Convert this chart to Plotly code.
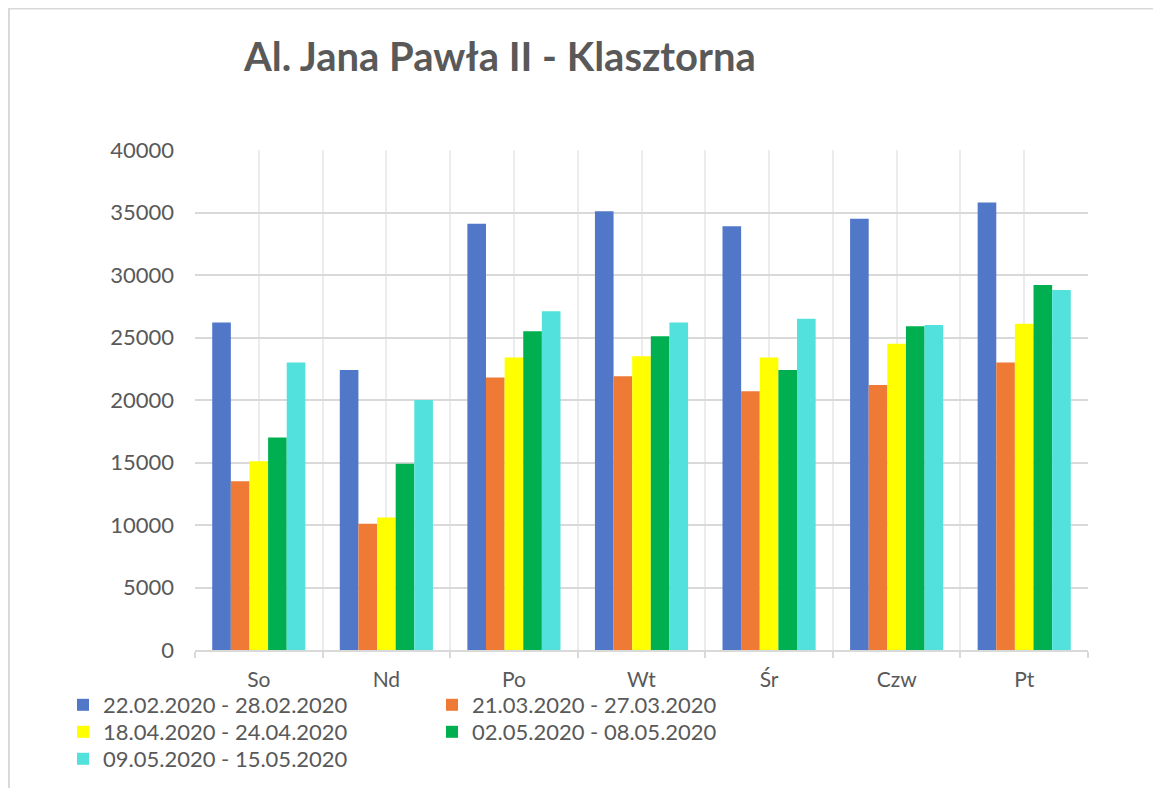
import plotly.graph_objects as go

days = ["So", "Nd", "Po", "Wt", "Śr", "Czw", "Pt"]
series_names = [
    "22.02.2020 - 28.02.2020",
    "21.03.2020 - 27.03.2020",
    "18.04.2020 - 24.04.2020",
    "02.05.2020 - 08.05.2020",
    "09.05.2020 - 15.05.2020",
]
week1 = [26200, 22400, 34100, 35100, 33900, 34500, 35800]
week2 = [13500, 10100, 21800, 21900, 20700, 21200, 23000]
week3 = [15100, 10600, 23400, 23500, 23400, 24500, 26100]
week4 = [17000, 14900, 25500, 25100, 22400, 25900, 29200]
week5 = [23000, 20000, 27100, 26200, 26500, 26000, 28800]
colors = ["#5178c8", "#ee7a36", "#ffff00", "#00b050", "#52e1dd"]
legend_rows = ["legend", "legend", "legend2", "legend2", "legend3"]

# page body adds an 8px margin, so the figure is 8px smaller each way
W, H = 1153, 780
ml, mr, mt, mb = 187, 73, 142, 138
pw, ph = W - ml - mr, H - mt - mb

fig = go.Figure()
xs = list(range(len(days)))
for name, vals, col, lg in zip(series_names, [week1, week2, week3, week4, week5], colors, legend_rows):
    fig.add_trace(go.Bar(x=xs, y=vals, name=name, legend=lg,
                         marker=dict(color=col, line=dict(width=0))))

def legend_row(top):
    return dict(orientation="h", xref="container", yref="container", x=55 / W, xanchor="left",
                y=1 - top / H, yanchor="top", entrywidth=324, entrywidthmode="pixels",
                font=dict(size=22, color="#595959", family="Lato"), traceorder="normal",
                itemsizing="constant", bgcolor="rgba(0,0,0,0)")

fig.update_layout(
    width=W, height=H,
    margin=dict(l=ml, r=mr, t=mt, b=mb, autoexpand=False),
    paper_bgcolor="white", plot_bgcolor="white",
    barmode="group", bargap=0.27, bargroupgap=0,
    font=dict(family="Lato", color="#595959"),
    title=dict(text="<b>Al. Jana Pawła II - Klasztorna</b>", font=dict(size=40, color="#595959", family="Lato"),
               x=236 / W, xanchor="left", y=1 - 49 / H, yanchor="middle"),
    showlegend=True,
    legend=legend_row(676),
    legend2=legend_row(703),
    legend3=legend_row(730),
)
fig.update_xaxes(
    type="linear", range=[-0.5, len(days) - 0.5],
    tickmode="array", tickvals=xs, ticktext=days, ticks="",
    tickfont=dict(size=21, color="#595959"), ticklabelstandoff=10,
    showgrid=True, gridcolor="#ececec", gridwidth=2,
    minor=dict(tickmode="array", tickvals=[i - 0.5 for i in range(len(days) + 1)],
               ticks="outside", ticklen=6, tickcolor="#d9d9d9", tickwidth=2,
               showgrid=True, gridcolor="#ececec", gridwidth=2),
    showline=True, linecolor="#d9d9d9", linewidth=2, zeroline=False,
)
fig.update_yaxes(
    range=[0, 40000], dtick=5000, tickformat="d",
    tickfont=dict(size=22, color="#595959"), ticklabelstandoff=20,
    showgrid=True, gridcolor="#d9d9d9", gridwidth=2, zeroline=False, showline=False,
)
# chart frame (top and left edges visible)
fig.add_shape(type="rect", xref="paper", yref="paper",
              x0=(1 - ml) / pw, x1=(W + 20 - ml) / pw, y0=-(H + 20 - mt - ph) / ph, y1=1 + (mt - 0.5) / ph,
              line=dict(color="#d9d9d9", width=2), fillcolor="rgba(0,0,0,0)", layer="below")

fig.write_html("out.html")
